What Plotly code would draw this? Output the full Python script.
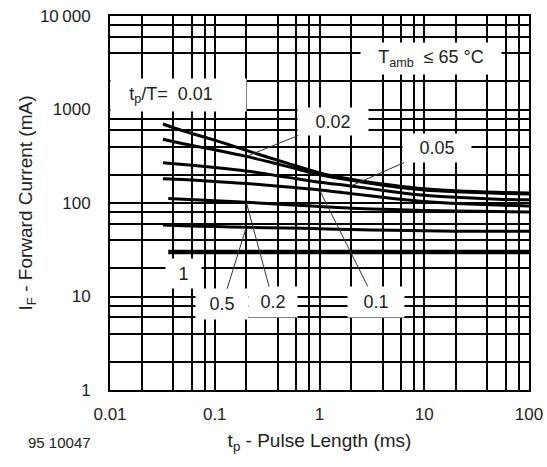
import math
import plotly.graph_objects as go

# ---- data ----
x_main = [0.032, 0.05, 0.1, 0.2, 0.5, 1, 2, 5, 10, 20, 50, 100]
x_short = [0.036, 0.05, 0.1, 0.2, 0.5, 1, 2, 5, 10, 20, 50, 100]
x_flat = [0.036, 100]

if_001 = [700, 590, 470, 365, 265, 210, 180, 155, 142, 135, 130, 128]
if_002 = [480, 430, 370, 315, 245, 200, 175, 150, 138, 132, 127, 125]
if_005 = [270, 258, 240, 220, 188, 167, 152, 132, 121, 115, 110, 108]
if_01 = [182, 178, 170, 162, 148, 138, 126, 112, 104, 99, 95, 93]
if_02 = [112, 110, 106, 102, 96, 92, 88, 85, 83, 82, 81, 80]
if_05 = [58, 57, 56, 55, 54, 53, 52, 51, 50.5, 50, 50, 50]
if_1 = [30, 30]

x_tick_vals = [0.01, 0.1, 1, 10, 100]
x_tick_text = ["0.01", "0.1", "1", "10", "100"]
y_tick_vals = [1, 10, 100, 1000, 10000]
y_tick_text = ["1", "10", "100", "1000", "10\u2009000"]
x_minor = [0.02, 0.04, 0.06, 0.08, 0.2, 0.4, 0.6, 0.8, 2, 4, 6, 8,
           20, 40, 60, 80]
y_minor = [2, 4, 6, 8, 20, 40, 60, 80, 200, 400, 600, 800,
           2000, 4000, 6000, 8000]

FONT = "Liberation Sans, Arial, sans-serif"
TXT = "#222222"

fig = go.Figure()
series = [
    (x_main, if_001, 3),
    (x_main, if_002, 3),
    (x_main, if_005, 3),
    (x_main, if_01, 3),
    (x_short, if_02, 3),
    (x_main, if_05, 3),
    (x_flat, if_1, 4.5),
]
for xs, ys, w in series:
    fig.add_trace(go.Scatter(x=xs, y=ys, mode="lines",
                             line=dict(color="black", width=w, shape="spline",
                                       smoothing=0.8),
                             showlegend=False, hoverinfo="skip"))


def leader(text, xv, yv, ax, ay, w, h):
    fig.add_annotation(x=math.log10(xv), y=math.log10(yv), xref="x", yref="y",
                       text=text, showarrow=True, arrowhead=0, arrowwidth=1,
                       arrowcolor="#333333", ax=ax, ay=ay,
                       bgcolor="white", width=w, height=h,
                       font=dict(family=FONT, size=18, color=TXT))


leader("0.02", x_main[3], if_002[3], 87, -35, 68, 25)
leader("0.05", x_main[6], if_005[6], 86, -38, 66, 26)
leader("0.1", x_main[5], if_01[5], 56, 112, 54, 28)
leader("0.2", x_short[3], if_02[3], 27, 100, 46, 28)
leader("0.5", x_main[3], if_05[3], -24, 77, 50, 28)

L, R, T, B = 110, 18, 16, 77
PW, PH = 547 - L - R, 467 - T - B


def px2paper(px, py):
    return (px - L) / PW, (467 - B - py) / PH


def box(text, px, py, w=None, h=None, size=18, bg="white"):
    xp, yp = px2paper(px, py)
    kw = {}
    if w:
        kw = dict(width=w, height=h)
    fig.add_annotation(x=xp, y=yp, xref="paper", yref="paper", text=text,
                       showarrow=False, bgcolor=bg, xanchor="center",
                       yanchor="middle",
                       font=dict(family=FONT, size=size, color=TXT), **kw)


box("1", 183, 273, 33, 27)
box("t<sub>p</sub>/T=  0.01   ", 178, 95, 133, 30)
box("T<sub>amb</sub>  ≤ 65 °C", 431, 58, 138, 29)
box("95 10047", 59, 442, size=15, bg="rgba(0,0,0,0)")

axis_common = dict(type="log", showgrid=True, gridcolor="black", gridwidth=1.7,
                   showline=True, linecolor="black", linewidth=2, mirror=True,
                   ticks="", zeroline=False,
                   tickfont=dict(family=FONT, size=17, color=TXT))

fig.update_xaxes(**axis_common, range=[-2, 2], tickmode="array",
                 tickvals=x_tick_vals, ticktext=x_tick_text,
                 ticklabelstandoff=8,
                 minor=dict(tickvals=x_minor, showgrid=True, gridcolor="black",
                            gridwidth=1.7, ticks=""),
                 title=dict(text="t<sub>p</sub> - Pulse Length (ms)",
                            font=dict(family=FONT, size=19, color=TXT),
                            standoff=10))
fig.update_yaxes(**axis_common, range=[0, 4], tickmode="array",
                 tickvals=y_tick_vals, ticktext=y_tick_text,
                 ticklabelstandoff=14,
                 minor=dict(tickvals=y_minor, showgrid=True, gridcolor="black",
                            gridwidth=1.7, ticks=""),
                 title=dict(text="I<sub>F</sub> - Forward Current (mA)",
                            font=dict(family=FONT, size=19, color=TXT),
                            standoff=2))

fig.update_layout(width=547, height=467, plot_bgcolor="white",
                  paper_bgcolor="white",
                  margin=dict(l=L, r=R, t=T, b=B, autoexpand=False),
                  font=dict(family=FONT, color=TXT))

fig.write_html("out.html", config={"displayModeBar": False},
               post_script="document.body.style.margin='0px';"
                           "document.body.style.padding='0px';")
